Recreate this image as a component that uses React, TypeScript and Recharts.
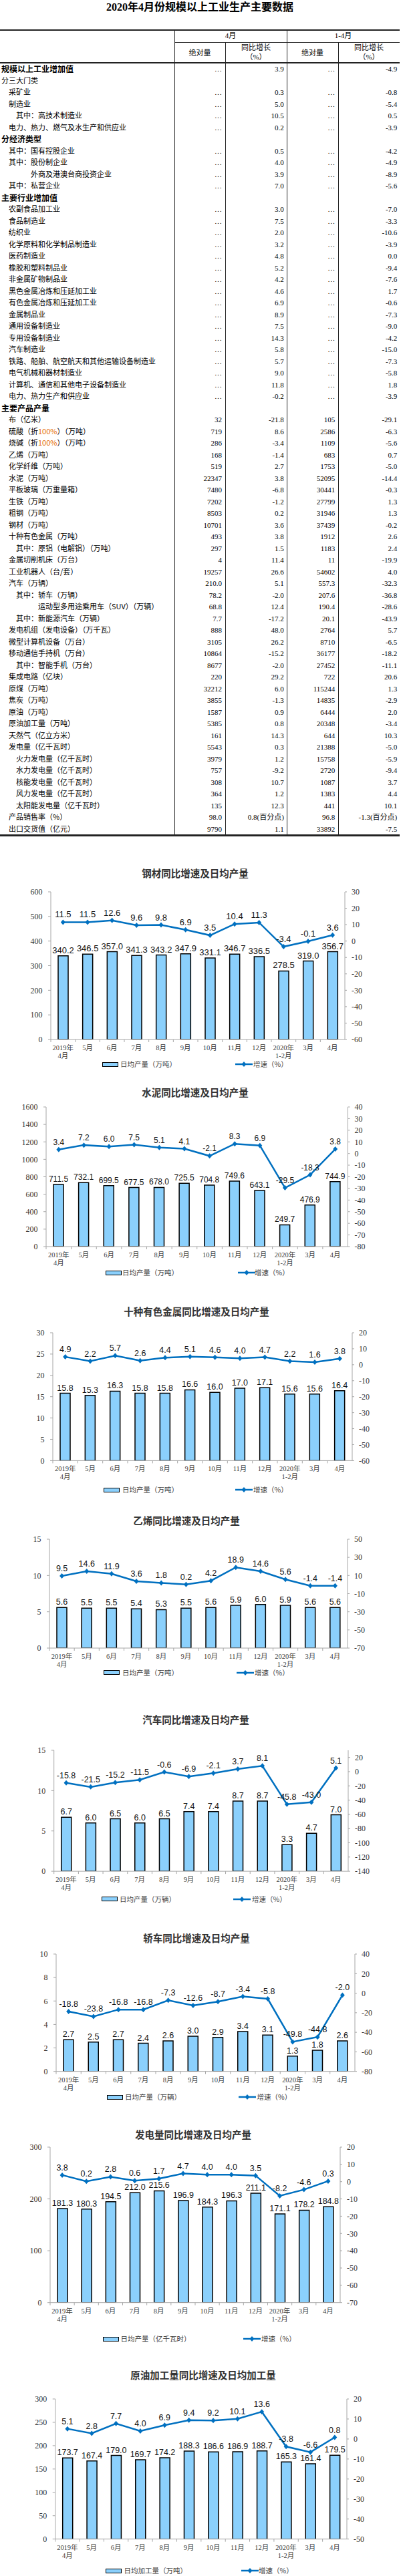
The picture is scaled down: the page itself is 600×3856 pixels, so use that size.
import React from "react";
import { Bar, ComposedChart, LabelList, Line, XAxis, YAxis } from "recharts";

// ---- table data ----
const D = "…";

const tableLabels = [
  "规模以上工业增加值", "分三大门类", "　采矿业", "　制造业", "　　其中：高技术制造业",
  "　电力、热力、燃气及水生产和供应业", "分经济类型", "　其中：国有控股企业", "　其中：股份制企业",
  "　　　　外商及港澳台商投资企业", "　其中：私营企业", "主要行业增加值", "　农副食品加工业",
  "　食品制造业", "　纺织业", "　化学原料和化学制品制造业", "　医药制造业", "　橡胶和塑料制品业",
  "　非金属矿物制品业", "　黑色金属冶炼和压延加工业", "　有色金属冶炼和压延加工业", "　金属制品业",
  "　通用设备制造业", "　专用设备制造业", "　汽车制造业", "　铁路、船舶、航空航天和其他运输设备制造业",
  "　电气机械和器材制造业", "　计算机、通信和其他电子设备制造业", "　电力、热力生产和供应业",
  "主要产品产量", "　布（亿米）", "　硫酸（折100%）（万吨）", "　烧碱（折100%）（万吨）", "　乙烯（万吨）",
  "　化学纤维（万吨）", "　水泥（万吨）", "　平板玻璃（万重量箱）", "　生铁（万吨）", "　粗钢（万吨）",
  "　钢材（万吨）", "　十种有色金属（万吨）", "　　其中：原铝（电解铝）（万吨）", "　金属切削机床（万台）",
  "　工业机器人（台/套）", "　汽车（万辆）", "　　其中：轿车（万辆）",
  "　　　　　运动型多用途乘用车（SUV）（万辆）", "　　其中：新能源汽车（万辆）",
  "　发电机组（发电设备）（万千瓦）", "　微型计算机设备（万台）", "　移动通信手持机（万台）",
  "　　其中：智能手机（万台）", "　集成电路（亿块）", "　原煤（万吨）", "　焦炭（万吨）", "　原油（万吨）",
  "　原油加工量（万吨）", "　天然气（亿立方米）", "　发电量（亿千瓦时）", "　　火力发电量（亿千瓦时）",
  "　　水力发电量（亿千瓦时）", "　　核能发电量（亿千瓦时）", "　　风力发电量（亿千瓦时）",
  "　　太阳能发电量（亿千瓦时）", "　产品销售率（%）", "　出口交货值（亿元）",
];

const boldLabels = ["规模以上工业增加值", "分经济类型", "主要行业增加值", "主要产品产量"];

const aprAbs = [
  D, "", D, D, D, D, "", D, D, D, D, "", D, D, D, D, D, D, D, D, D, D, D, D, D, D, D, D, D, "",
  "32", "719", "286", "168", "519", "22347", "7480", "7202", "8503", "10701", "493", "297", "4",
  "19257", "210.0", "78.2", "68.8", "7.7", "888", "3105", "10864", "8677", "220", "32212", "3855",
  "1587", "5385", "161", "5543", "3979", "757", "308", "364", "135", "98.0", "9790",
];
const aprGrowth = [
  "3.9", "", "0.3", "5.0", "10.5", "0.2", "", "0.5", "4.0", "3.9", "7.0", "", "3.0", "7.5", "2.0",
  "3.2", "4.8", "5.2", "4.2", "4.6", "6.9", "8.9", "7.5", "14.3", "5.8", "5.7", "9.0", "11.8", "-0.2", "",
  "-21.8", "8.6", "-3.4", "-1.4", "2.7", "3.8", "-6.8", "-1.2", "0.2", "3.6", "3.8", "1.5", "11.4",
  "26.6", "5.1", "-2.0", "12.4", "-17.2", "48.0", "26.2", "-15.2", "-2.0", "29.2", "6.0", "-1.3",
  "0.9", "0.8", "14.3", "0.3", "1.2", "-9.2", "10.7", "1.2", "12.3", "0.8(百分点)", "1.1",
];
const ytdAbs = [
  D, "", D, D, D, D, "", D, D, D, D, "", D, D, D, D, D, D, D, D, D, D, D, D, D, D, D, D, D, "",
  "105", "2586", "1109", "683", "1753", "52095", "30441", "27799", "31946", "37439", "1912", "1183",
  "11", "54602", "557.3", "207.6", "190.4", "20.1", "2764", "8710", "36177", "27452", "722", "115244",
  "14835", "6444", "20348", "644", "21388", "15758", "2720", "1087", "1383", "441", "96.8", "33892",
];
const ytdGrowth = [
  "-4.9", "", "-0.8", "-5.4", "0.5", "-3.9", "", "-4.2", "-4.9", "-8.9", "-5.6", "", "-7.0", "-3.3",
  "-10.6", "-3.9", "0.0", "-9.4", "-7.6", "1.7", "-0.6", "-7.3", "-9.0", "-4.2", "-15.0", "-7.3", "-5.8",
  "1.8", "-3.9", "", "-29.1", "-6.3", "-5.6", "0.7", "-5.0", "-14.4", "-0.3", "1.3", "1.3", "-0.2", "2.6",
  "2.4", "-19.9", "4.0", "-32.3", "-36.8", "-28.6", "-43.9", "5.7", "-6.5", "-18.2", "-11.1", "20.6",
  "1.3", "-2.9", "2.0", "-3.4", "10.3", "-5.0", "-5.9", "-9.4", "3.7", "4.4", "10.1", "-1.3(百分点)", "-7.5",
];

// ---- chart data ----
const months = ["2019年\n4月", "5月", "6月", "7月", "8月", "9月", "10月", "11月", "12月", "2020年\n1-2月", "3月", "4月"];

const steelOutput = [340.2, 346.5, 357.0, 341.3, 343.2, 347.9, 331.1, 346.7, 336.5, 278.5, 319.0, 356.7];
const steelGrowth = [11.5, 11.5, 12.6, 9.6, 9.8, 6.9, 3.5, 10.4, 11.3, -3.4, -0.1, 3.6];
const cementOutput = [711.5, 732.1, 699.5, 677.5, 678.0, 725.5, 704.8, 749.6, 643.1, 249.7, 476.9, 744.9];
const cementGrowth = [3.4, 7.2, 6.0, 7.5, 5.1, 4.1, -2.1, 8.3, 6.9, -29.5, -18.3, 3.8];
const metalOutput = [15.8, 15.3, 16.3, 15.8, 15.8, 16.6, 16.0, 17.0, 17.1, 15.6, 15.6, 16.4];
const metalGrowth = [4.9, 2.2, 5.7, 2.6, 4.4, 5.1, 4.6, 4.0, 4.7, 2.2, 1.6, 3.8];
const ethyleneOutput = [5.6, 5.5, 5.5, 5.4, 5.3, 5.5, 5.6, 5.9, 6.0, 5.9, 5.6, 5.6];
const ethyleneGrowth = [9.5, 14.6, 11.9, 3.6, 1.8, 0.2, 4.2, 18.9, 14.6, 5.6, -1.4, -1.4];
const autoOutput = [6.7, 6.0, 6.5, 6.0, 6.5, 7.4, 7.4, 8.7, 8.7, 3.3, 4.7, 7.0];
const autoGrowth = [-15.8, -21.5, -15.2, -11.5, -0.6, -6.9, -2.1, 3.7, 8.1, -45.8, -43.0, 5.1];
const carOutput = [2.7, 2.5, 2.7, 2.4, 2.6, 3.0, 2.9, 3.4, 3.1, 1.3, 1.8, 2.6];
const carGrowth = [-18.8, -23.8, -16.8, -16.8, -7.3, -12.6, -8.7, -3.4, -5.8, -49.8, -44.8, -2.0];
const powerOutput = [181.3, 180.3, 194.5, 212.0, 215.6, 196.9, 184.3, 196.3, 211.1, 171.1, 178.2, 184.8];
const powerGrowth = [3.8, 0.2, 2.8, 0.6, 1.7, 4.7, 4.0, 4.0, 3.5, -8.2, -4.6, 0.3];
const crudeOutput = [173.7, 167.4, 179.0, 169.7, 174.2, 188.3, 186.6, 186.9, 188.7, 165.3, 161.4, 179.5];
const crudeGrowth = [5.1, 2.8, 7.7, 4.0, 6.9, 9.4, 9.2, 10.1, 13.6, -3.8, -6.6, 0.8];

const steelLeftTicks = [0, 100, 200, 300, 400, 500, 600];
const steelRightTicks = [-60, -50, -40, -30, -20, -10, 0, 10, 20, 30];
const cementLeftTicks = [0, 200, 400, 600, 800, 1000, 1200, 1400, 1600];
const cementRightTicks = [-80, -70, -60, -50, -40, -30, -20, -10, 0, 10, 20, 30, 40];
const metalLeftTicks = [0, 5, 10, 15, 20, 25, 30];
const metalRightTicks = [-60, -50, -40, -30, -20, -10, 0, 10, 20];
const ethyleneLeftTicks = [0, 5, 10, 15];
const ethyleneRightTicks = [-70, -50, -30, -10, 10, 30, 50];
const autoLeftTicks = [0, 5, 10, 15];
const autoRightTicks = [-140, -120, -100, -80, -60, -40, -20, 0, 20];
const carLeftTicks = [0, 2, 4, 6, 8, 10];
const carRightTicks = [-80, -60, -40, -20, 0, 20, 40];
const powerLeftTicks = [0, 100, 200, 300];
const powerRightTicks = [-70, -60, -50, -40, -30, -20, -10, 0, 10, 20];
const crudeLeftTicks = [0, 50, 100, 150, 200, 250, 300];
const crudeRightTicks = [-50, -40, -30, -20, -10, 0, 10, 20];

const AXIS = "#A6A6A6";
const LINE = "#0070C0";
const BAR_FILL = "#8BD0FC";
const SERIF = '"Liberation Serif", "Noto Sans CJK SC", serif';
const SANS = '"Liberation Sans", Arial, sans-serif';
const CJK = '"Noto Sans CJK SC", sans-serif';

type Spec = {
  title: string;
  unit: string;
  out: number[];
  growth: number[];
  titleX: number;
  titleY: number;
  left: number;
  right: number;
  top: number;
  bottom: number;
  leftTicks: number[];
  rightTicks: number[];
  rightDomain: [number, number];
  legendY: number;
  legendX: number[];
  labelSize: number;
};

const specs: Spec[] = [
  {
    title: "钢材同比增速及日均产量", unit: "日均产量（万吨）", out: steelOutput, growth: steelGrowth,
    titleX: 292, titleY: 1307, left: 76, right: 516, top: 1335, bottom: 1556,
    leftTicks: steelLeftTicks, rightTicks: steelRightTicks, rightDomain: [-60, 30],
    legendY: 1593, legendX: [153, 180, 352, 379], labelSize: 13,
  },
  {
    title: "水泥同比增速及日均产量", unit: "日均产量（万吨）", out: cementOutput, growth: cementGrowth,
    titleX: 292, titleY: 1635, left: 69, right: 520.5, top: 1657, bottom: 1866,
    leftTicks: cementLeftTicks, rightTicks: cementRightTicks, rightDomain: [-80, 40],
    legendY: 1905, legendX: [158, 183, 356, 381], labelSize: 12,
  },
  {
    title: "十种有色金属同比增速及日均产量", unit: "日均产量（万吨）", out: metalOutput, growth: metalGrowth,
    titleX: 294, titleY: 1963, left: 79, right: 527, top: 1994.6, bottom: 2186,
    leftTicks: metalLeftTicks, rightTicks: metalRightTicks, rightDomain: [-60, 20],
    legendY: 2230, legendX: [155, 183, 352, 379], labelSize: 12.5,
  },
  {
    title: "乙烯同比增速及日均产量", unit: "日均产量（万吨）", out: ethyleneOutput, growth: ethyleneGrowth,
    titleX: 279, titleY: 2275.7, left: 74, right: 520, top: 2304, bottom: 2467,
    leftTicks: ethyleneLeftTicks, rightTicks: ethyleneRightTicks, rightDomain: [-70, 50],
    legendY: 2503.6, legendX: [155, 183, 354, 381], labelSize: 12.5,
  },
  {
    title: "汽车同比增速及日均产量", unit: "日均产量（万辆）", out: autoOutput, growth: autoGrowth,
    titleX: 293, titleY: 2574, left: 80.7, right: 521, top: 2619.6, bottom: 2800.7,
    leftTicks: autoLeftTicks, rightTicks: autoRightTicks, rightDomain: [-140, 30],
    legendY: 2842.5, legendX: [152, 179, 349, 377], labelSize: 12.5,
  },
  {
    title: "轿车同比增速及日均产量", unit: "日均产量（万辆）", out: carOutput, growth: carGrowth,
    titleX: 294, titleY: 2900.7, left: 84, right: 531, top: 2925, bottom: 3100.7,
    leftTicks: carLeftTicks, rightTicks: carRightTicks, rightDomain: [-80, 40],
    legendY: 3139, legendX: [160, 187, 357, 384.6], labelSize: 12.5,
  },
  {
    title: "发电量同比增速及日均产量", unit: "日均产量（亿千瓦时）", out: powerOutput, growth: powerGrowth,
    titleX: 289, titleY: 3194.6, left: 75, right: 509, top: 3214.3, bottom: 3447,
    leftTicks: powerLeftTicks, rightTicks: powerRightTicks, rightDomain: [-70, 20],
    legendY: 3501, legendX: [154, 180.6, 364, 391], labelSize: 12.5,
  },
  {
    title: "原油加工量同比增速及日均加工量", unit: "日均加工量（万吨）", out: crudeOutput, growth: crudeGrowth,
    titleX: 304, titleY: 3555, left: 82.7, right: 519, top: 3591, bottom: 3800.7,
    leftTicks: crudeLeftTicks, rightTicks: crudeRightTicks, rightDomain: [-50, 20],
    legendY: 3848, legendX: [158, 185.6, 360.5, 387], labelSize: 12.5,
  },
];

function MonthTick(props: any) {
  const { x, y, payload, bw } = props;
  const lines = String(payload.value).split("\n");
  return (
    <g>
      <line x1={x - bw / 2} x2={x - bw / 2} y1={y} y2={y + 4} stroke={AXIS} />
      {lines.map((t, i) => (
        <text key={i} x={x} y={y + 16 + i * 12} textAnchor="middle" fontSize={10.5} fill="#404040" fontFamily={SERIF}>
          {t}
        </text>
      ))}
    </g>
  );
}

function Diamond(props: any) {
  const { cx, cy } = props;
  if (cx == null || cy == null) return null;
  return <path d={`M${cx},${cy - 4}L${cx + 3.5},${cy}L${cx},${cy + 4}L${cx - 3.5},${cy}Z`} fill={LINE} />;
}

const fmt = (v: any) => Number(v).toFixed(1);

function ChartBlock({ spec }: { spec: Spec }) {
  const mt = 24;
  const xh = 40;
  const h = spec.bottom - spec.top + mt + xh;
  const bw = (spec.right - spec.left) / months.length;
  const data = months.map((m, i) => ({ m, out: spec.out[i], g: spec.growth[i] }));
  const labelStyle = { fontSize: spec.labelSize, fill: "#111", fontFamily: SANS };
  const [barX, barTextX, lineX, lineTextX] = spec.legendX;
  const legendText = { position: "absolute" as const, top: spec.legendY - 8, fontSize: 10.5, lineHeight: "16px", color: "#404040", fontFamily: CJK, whiteSpace: "nowrap" as const };

  return (
    <>
      <div
        style={{
          position: "absolute", left: spec.titleX, top: spec.titleY - 10, transform: "translateX(-50%)",
          whiteSpace: "nowrap", fontFamily: CJK, fontSize: 14.5, lineHeight: "20px", fontWeight: 700, color: "#333",
        }}
      >
        {spec.title}
      </div>
      <div style={{ position: "absolute", left: 0, top: spec.top - mt }}>
        <ComposedChart width={600} height={h} data={data} margin={{ top: mt, right: 0, bottom: 0, left: 0 }} style={{ overflow: "visible" }}>
          <XAxis
            dataKey="m"
            height={xh}
            interval={0}
            tickSize={0}
            tickMargin={0}
            tickLine={false}
            axisLine={{ stroke: AXIS }}
            tick={<MonthTick bw={bw} />}
          />
          <YAxis
            yAxisId="l"
            orientation="left"
            width={spec.left}
            domain={[0, spec.leftTicks[spec.leftTicks.length - 1]]}
            ticks={spec.leftTicks}
            interval={0}
            allowDataOverflow
            axisLine={{ stroke: AXIS }}
            tickLine={{ stroke: AXIS }}
            tickSize={4}
            tickMargin={8.5}
            tick={{ fill: "#333", fontSize: 12, fontFamily: SERIF }}
          />
          <YAxis
            yAxisId="r"
            orientation="right"
            width={600 - spec.right}
            domain={spec.rightDomain}
            ticks={spec.rightTicks}
            interval={0}
            allowDataOverflow
            axisLine={{ stroke: AXIS }}
            tickLine={{ stroke: AXIS }}
            tickSize={3}
            tickMargin={7}
            tick={{ fill: "#333", fontSize: 12, fontFamily: SERIF }}
          />
          <Bar yAxisId="l" dataKey="out" barSize={15} fill={BAR_FILL} stroke="#000" strokeWidth={1.5} isAnimationActive={false}>
            <LabelList dataKey="out" position="top" offset={4} formatter={fmt} style={labelStyle} />
          </Bar>
          <Line
            yAxisId="r"
            dataKey="g"
            type="linear"
            stroke={LINE}
            strokeWidth={2.5}
            dot={<Diamond />}
            activeDot={false}
            isAnimationActive={false}
          >
            <LabelList dataKey="g" position="top" offset={7} formatter={fmt} style={labelStyle} />
          </Line>
        </ComposedChart>
      </div>
      <div
        style={{
          position: "absolute", left: barX, top: spec.legendY - 3.5, width: 24, height: 7,
          boxSizing: "border-box", border: "1.5px solid #000", background: BAR_FILL,
        }}
      />
      <div style={{ ...legendText, left: barTextX }}>{spec.unit}</div>
      <svg style={{ position: "absolute", left: lineX, top: spec.legendY - 5 }} width={26} height={10}>
        <line x1={0} x2={26} y1={5} y2={5} stroke={LINE} strokeWidth={2.5} />
        <path d="M13,1L16.5,5L13,9L9.5,5Z" fill={LINE} />
      </svg>
      <div style={{ ...legendText, left: lineTextX }}>增速（%）</div>
    </>
  );
}

function Label({ text }: { text: string }) {
  if (text.includes("100%")) {
    const [a, b] = text.split("100%");
    return (
      <>
        {a}
        <span style={{ color: "#E46C0A" }}>100%</span>
        {b}
      </>
    );
  }
  return <>{text}</>;
}

function DataTable() {
  const top0 = 94;
  const rowH = 17.5;
  const cols = [
    { l: 261, r: 332, vals: aprAbs },
    { l: 337, r: 424.8, vals: aprGrowth },
    { l: 429, r: 501.3, vals: ytdAbs },
    { l: 506, r: 594.3, vals: ytdGrowth },
  ];
  const rule = (x: number, y: number, w: number, h: number) => (
    <div style={{ position: "absolute", left: x, top: y, width: w, height: h, background: "#222" }} />
  );
  const head = { position: "absolute" as const, fontFamily: SERIF, fontSize: 11, lineHeight: "14px", textAlign: "center" as const, color: "#000" };

  return (
    <>
      <div
        style={{
          position: "absolute", left: 299, top: 1, transform: "translateX(-50%)", whiteSpace: "nowrap",
          fontFamily: SERIF, fontSize: 16, lineHeight: "20px", fontWeight: 700, color: "#000",
        }}
      >
        2020年4月份规模以上工业生产主要数据
      </div>
      {rule(0, 43.5, 598, 2)}
      {rule(261, 62.5, 337, 1)}
      {rule(0, 93, 598, 1.5)}
      {rule(0, 1249, 598, 2.5)}
      {rule(261, 44, 1, 1206)}
      {rule(337, 63, 1, 1187)}
      {rule(428.5, 44, 1, 1206)}
      {rule(505.5, 63, 1, 1187)}
      <div style={{ ...head, left: 261, width: 168, top: 46 }}>4月</div>
      <div style={{ ...head, left: 429, width: 169, top: 46 }}>1-4月</div>
      <div style={{ ...head, left: 261, width: 76, top: 72 }}>绝对量</div>
      <div style={{ ...head, left: 337, width: 92, top: 64 }}>同比增长<br />（%）</div>
      <div style={{ ...head, left: 429, width: 77, top: 72 }}>绝对量</div>
      <div style={{ ...head, left: 506, width: 92, top: 64 }}>同比增长<br />（%）</div>
      {tableLabels.map((label, i) => {
        const bold = boldLabels.includes(label);
        const y = top0 + i * rowH;
        return (
          <React.Fragment key={i}>
            <div
              style={{
                position: "absolute", left: 2, top: y, height: rowH, lineHeight: `${rowH}px`, whiteSpace: "pre",
                fontFamily: CJK, fontSize: bold ? 12 : 11, fontWeight: bold ? 700 : 400, color: "#000",
              }}
            >
              <Label text={label} />
            </div>
            {cols.map((c, j) => (
              <div
                key={j}
                style={{
                  position: "absolute", left: c.l, width: c.r - c.l, top: y + 1, height: rowH, lineHeight: `${rowH}px`,
                  textAlign: "right", whiteSpace: "nowrap", fontFamily: SERIF, fontSize: 11, color: "#000",
                }}
              >
                {c.vals[i]}
              </div>
            ))}
          </React.Fragment>
        );
      })}
    </>
  );
}

export default function App() {
  return (
    <div style={{ position: "relative", width: 600, height: 3856, background: "#fff", overflow: "hidden" }}>
      <style>{"body{margin:0}"}</style>
      <DataTable />
      {specs.map((s) => (
        <ChartBlock key={s.title} spec={s} />
      ))}
    </div>
  );
}
